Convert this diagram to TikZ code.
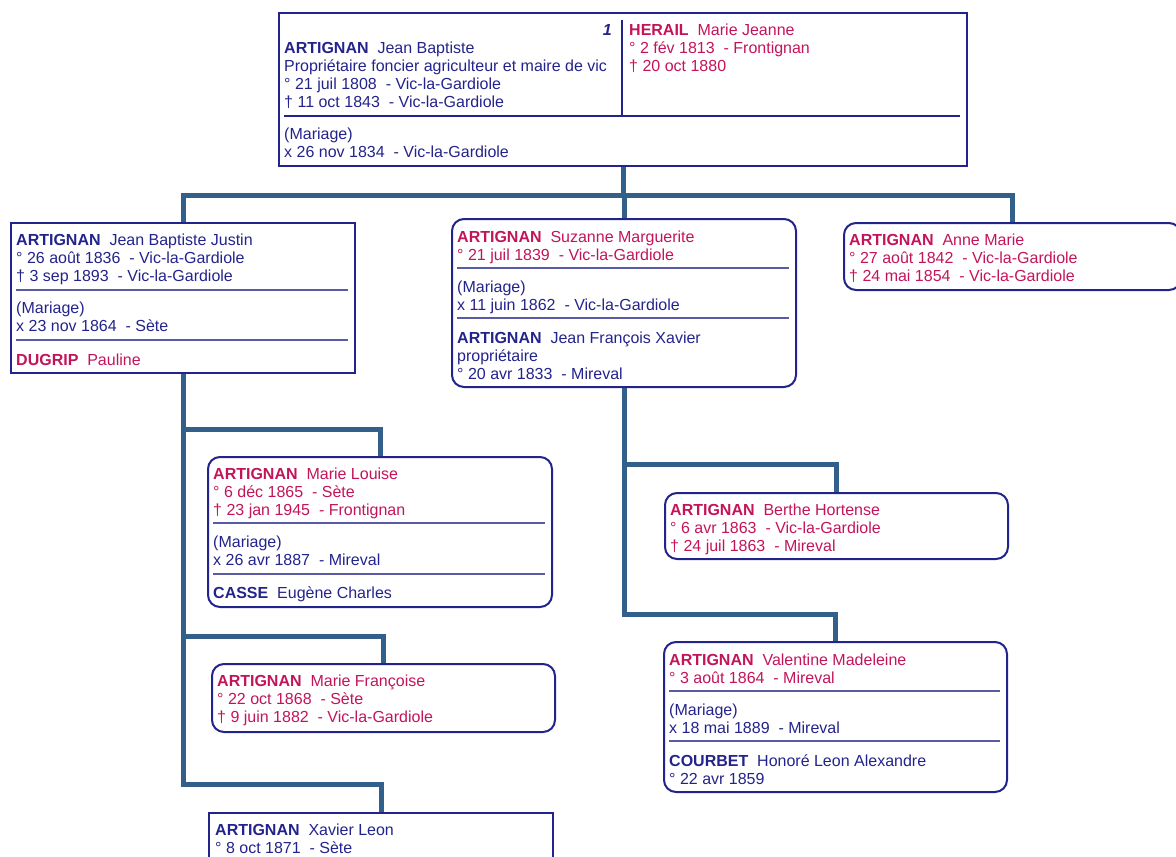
\documentclass[tikz,border=0pt]{standalone}
\usepackage{fontspec}
\setmainfont{Liberation Sans}
\usepackage{xcolor}
\definecolor{navy}{RGB}{35,35,140}
\definecolor{rose}{RGB}{195,20,90}
\definecolor{trunk}{RGB}{50,96,138}
\definecolor{rulecol}{RGB}{90,90,165}
\tikzstyle{male}=[draw=navy, line width=2pt, anchor=north west, inner sep=0pt]
\tikzstyle{female}=[male, rounded corners=12pt]
\tikzstyle{txt}=[anchor=base west, inner sep=0pt, font=\fontsize{16}{18}\selectfont]
\tikzstyle{he}=[txt, text=navy]
\tikzstyle{she}=[txt, text=rose]
\tikzstyle{sep}=[draw=rulecol, line width=1.5pt]
\tikzstyle{link}=[draw=trunk, line width=5pt]
\newcommand{\rows}[1]{\begin{tabular}[t]{@{}l@{}}#1\end{tabular}}

\begin{document}
\begin{tikzpicture}[x=1pt,y=-1pt]
            \useasboundingbox (0,0) rectangle (1176,857);
            \clip (0,0) rectangle (1176,857);
            % parents
            \node[male, minimum width=688pt, minimum height=153pt] (couple) at (278,12) {};
            \draw[sep, draw=navy] (622,20) -- (622,116);
            \draw[sep, draw=navy] (284,116) -- (960,116);
            \node[he] (jb) at (284,53) {\rows{\textbf{ARTIGNAN}\ \ Jean Baptiste\\ Propriétaire foncier agriculteur et maire de vic\\ ° 21 juil 1808\ \ - Vic-la-Gardiole\\ † 11 oct 1843\ \ - Vic-la-Gardiole}};
            \node[he, anchor=base east] (num) at (612,35) {\textbf{\textit{1}}};
            \node[she] (mj) at (629,35) {\rows{\textbf{HERAIL}\ \ Marie Jeanne\\ ° 2 fév 1813\ \ - Frontignan\\ † 20 oct 1880}};
            \node[he] (wed0) at (284,139) {\rows{(Mariage)\\ x 26 nov 1834\ \ - Vic-la-Gardiole}};
            % children
            \node[male, minimum width=344pt, minimum height=150pt] (jbj) at (10,222) {};
            \node[he] (jbjt) at (16,245) {\rows{\textbf{ARTIGNAN}\ \ Jean Baptiste Justin\\ ° 26 août 1836\ \ - Vic-la-Gardiole\\ † 3 sep 1893\ \ - Vic-la-Gardiole}};
            \draw[sep] (16,290) -- (348,290);
            \node[he] (wed1) at (16,313) {\rows{(Mariage)\\ x 23 nov 1864\ \ - Sète}};
            \draw[sep] (16,340) -- (348,340);
            \node[she] (pd) at (16,365) {\textbf{DUGRIP}\ \ Pauline};
            \node[female, minimum width=344pt, minimum height=168pt] (suz) at (451,218) {};
            \node[she] (suzt) at (457,242) {\rows{\textbf{ARTIGNAN}\ \ Suzanne Marguerite\\ ° 21 juil 1839\ \ - Vic-la-Gardiole}};
            \draw[sep] (457,268) -- (789,268);
            \node[he] (wed2) at (457,292) {\rows{(Mariage)\\ x 11 juin 1862\ \ - Vic-la-Gardiole}};
            \draw[sep] (457,318) -- (789,318);
            \node[he] (jfx) at (457,343) {\rows{\textbf{ARTIGNAN}\ \ Jean François Xavier\\ propriétaire\\ ° 20 avr 1833\ \ - Mireval}};
            \node[female, minimum width=337pt, minimum height=67pt] (am) at (843,222) {};
            \node[she] (amt) at (849,245) {\rows{\textbf{ARTIGNAN}\ \ Anne Marie\\ ° 27 août 1842\ \ - Vic-la-Gardiole\\ † 24 mai 1854\ \ - Vic-la-Gardiole}};
            % grandchildren
            \node[female, minimum width=344pt, minimum height=150pt] (ml) at (207,456) {};
            \node[she] (mlt) at (213,479) {\rows{\textbf{ARTIGNAN}\ \ Marie Louise\\ ° 6 déc 1865\ \ - Sète\\ † 23 jan 1945\ \ - Frontignan}};
            \draw[sep] (213,523) -- (545,523);
            \node[he] (wed3) at (213,547) {\rows{(Mariage)\\ x 26 avr 1887\ \ - Mireval}};
            \draw[sep] (213,574) -- (545,574);
            \node[he] (ec) at (213,598) {\textbf{CASSE}\ \ Eugène Charles};
            \node[female, minimum width=343pt, minimum height=68pt] (mf) at (211,663) {};
            \node[she] (mft) at (217,686) {\rows{\textbf{ARTIGNAN}\ \ Marie Françoise\\ ° 22 oct 1868\ \ - Sète\\ † 9 juin 1882\ \ - Vic-la-Gardiole}};
            \node[male, minimum width=344pt, minimum height=80pt] (xl) at (208,812) {};
            \node[he] (xlt) at (215,835) {\rows{\textbf{ARTIGNAN}\ \ Xavier Leon\\ ° 8 oct 1871\ \ - Sète}};
            \node[female, minimum width=343pt, minimum height=66pt] (bh) at (664,492) {};
            \node[she] (bht) at (670,515) {\rows{\textbf{ARTIGNAN}\ \ Berthe Hortense\\ ° 6 avr 1863\ \ - Vic-la-Gardiole\\ † 24 juil 1863\ \ - Mireval}};
            \node[female, minimum width=343pt, minimum height=150pt] (vm) at (663,641) {};
            \node[she] (vmt) at (669,665) {\rows{\textbf{ARTIGNAN}\ \ Valentine Madeleine\\ ° 3 août 1864\ \ - Mireval}};
            \draw[sep] (669,691) -- (1000,691);
            \node[he] (wed4) at (669,715) {\rows{(Mariage)\\ x 18 mai 1889\ \ - Mireval}};
            \draw[sep] (669,741) -- (1000,741);
            \node[he] (hla) at (669,766) {\rows{\textbf{COURBET}\ \ Honoré Leon Alexandre\\ ° 22 avr 1859}};
            % links
            \draw[link] (couple.south) -- ++(0,28) -| (jbj.north);
            \draw[link] (couple.south) -- ++(0,28) -| (suz.north);
            \draw[link] (couple.south) -- ++(0,28) -| (am.north);
            \draw[link] (jbj.south) -- ++(0,55) -| (ml.north);
            \draw[link] (jbj.south) -- ++(0,262) -| (mf.north);
            \draw[link] (jbj.south) -- ++(0,410) -| (xl.north);
            \draw[link] (suz.south) -- ++(0,76) -| (bh.north);
            \draw[link] (suz.south) -- ++(0,226) -| (vm.north);
        \end{tikzpicture}
\end{document}
